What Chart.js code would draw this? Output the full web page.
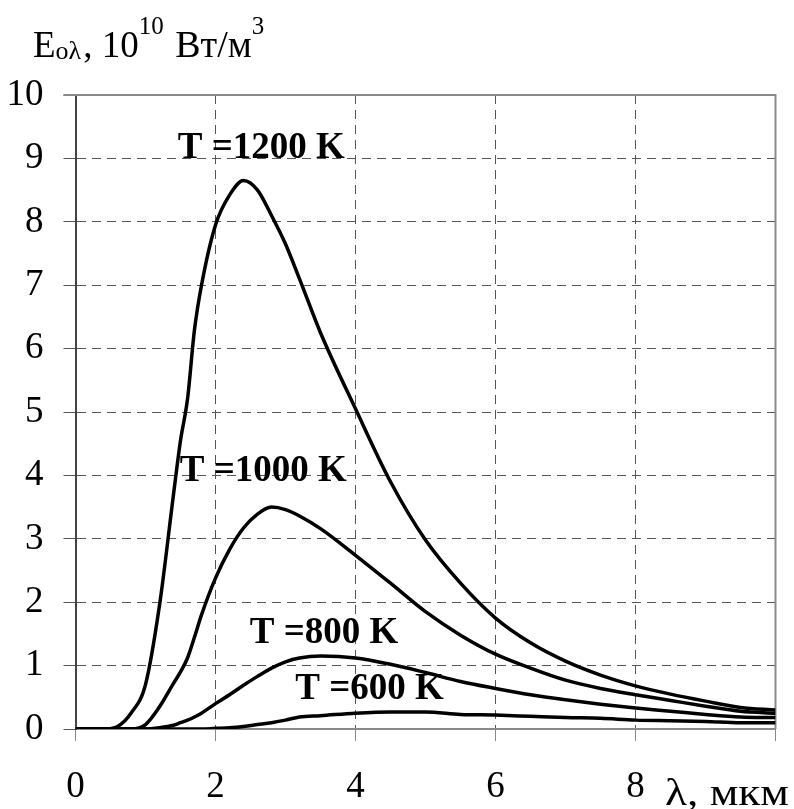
<!DOCTYPE html>
<html>
<head>
<meta charset="utf-8">
<script src="https://cdn.jsdelivr.net/npm/chart.js@4.4.0/dist/chart.umd.min.js"></script>
<style>
  html, body { margin: 0; padding: 0; background: #fff; }
  #wrap { width: 794px; height: 809px; }
</style>
</head>
<body>
<div id="wrap"><canvas id="myChart" width="794" height="809"></canvas></div>
<script>
// wavelength, um
const lambda = [0, 0.4, 0.6, 0.8, 1.0, 1.2, 1.4, 1.5, 1.6, 1.7, 1.8, 2.0, 2.2, 2.4, 2.6, 2.8, 3.0, 3.2, 3.5, 4.0, 4.5, 5.0, 5.5, 6.0, 6.5, 7.0, 7.5, 8.0, 8.5, 9.0, 9.5, 10];

// E_0lambda, 10^10 W/m^3
const e1200 = [0, 0, 0.04, 0.26, 0.7, 1.95, 3.7, 4.55, 5.2, 6.3, 7.0, 7.95, 8.42, 8.65, 8.5, 8.1, 7.65, 7.1, 6.25, 5.05, 3.9, 2.98, 2.3, 1.75, 1.36, 1.07, 0.85, 0.68, 0.55, 0.44, 0.34, 0.30];
const e1000 = [0, 0, 0, 0, 0.07, 0.35, 0.72, 0.9, 1.12, 1.45, 1.8, 2.38, 2.83, 3.17, 3.39, 3.5, 3.46, 3.36, 3.16, 2.74, 2.3, 1.85, 1.48, 1.18, 0.96, 0.77, 0.64, 0.54, 0.45, 0.36, 0.28, 0.25];
const e800 = [0, 0, 0, 0, 0, 0.02, 0.06, 0.1, 0.14, 0.19, 0.25, 0.4, 0.54, 0.69, 0.83, 0.96, 1.06, 1.12, 1.15, 1.12, 1.02, 0.89, 0.75, 0.64, 0.54, 0.46, 0.39, 0.33, 0.28, 0.23, 0.19, 0.18];
const e600 = [0, 0, 0, 0, 0, 0, 0, 0, 0, 0, 0, 0.01, 0.02, 0.04, 0.07, 0.1, 0.14, 0.19, 0.21, 0.25, 0.27, 0.27, 0.23, 0.22, 0.2, 0.18, 0.17, 0.14, 0.13, 0.12, 0.1, 0.1];

const curveNames = ["T =1200 K", "T =1000 K", "T =800 K", "T =600 K"];
// where each name sits (left end of text, baseline), in axis units
const nameX = [1.46, 1.49, 2.49, 3.14];
const nameY = [9.0, 3.91, 1.36, 0.47];

const xTicks = [0, 2, 4, 6, 8];
const xTitle = "λ, мкм";

const serif = "'Liberation Serif', 'Times New Roman', serif";

function series(values) {
    return lambda.map((x, i) => ({ x: x, y: values[i] }));
}

const lineStyle = {
    borderColor: "#000",
    borderWidth: 3.5,
    pointRadius: 0,
    fill: false,
    cubicInterpolationMode: "monotone"
};

const extras = {
    id: "extras",
    beforeDatasetsDraw(chart) {
        const { ctx, chartArea: a } = chart;
        ctx.save();
        ctx.strokeStyle = "#8a8a8a";
        ctx.lineWidth = 2;
        ctx.beginPath();
        ctx.moveTo(a.left - 12, a.top);
        ctx.lineTo(a.right, a.top);
        ctx.lineTo(a.right, a.bottom);
        ctx.stroke();
        ctx.restore();
    },
    afterDraw(chart) {
        const { ctx, scales } = chart;
        ctx.save();
        ctx.fillStyle = "#000";
        ctx.textBaseline = "alphabetic";
        ctx.textAlign = "left";

        // curve names
        ctx.font = "bold 37px " + serif;
        curveNames.forEach((t, i) => {
            ctx.fillText(t, scales.x.getPixelForValue(nameX[i]), scales.y.getPixelForValue(nameY[i]));
        });

        // y axis title: E_oλ, 10^10 Вт/м^3
        let x = 33;
        const parts = [
            ["E", 37, 57],
            ["oλ", 26, 59],
            [", 10", 37, 57],
            ["10", 25, 34],
            [" Вт/м", 38, 57],
            ["3", 25, 34]
        ];
        parts.forEach(p => {
            ctx.font = p[1] + "px " + serif;
            ctx.fillText(p[0], x, p[2]);
            x += ctx.measureText(p[0]).width + (p[1] < 30 ? 2 : 0);
        });

        // x axis title, a bit wider as in the original
        ctx.font = "37px " + serif;
        const w = ctx.measureText(xTitle).width;
        ctx.translate(665, 805);
        ctx.scale(124 / w, 1);
        ctx.fillText(xTitle, 0, 0);
        ctx.restore();
    }
};

const config = {
    type: "line",
    data: {
        datasets: [
            { label: curveNames[0], data: series(e1200), ...lineStyle },
            { label: curveNames[1], data: series(e1000), ...lineStyle },
            { label: curveNames[2], data: series(e800), ...lineStyle },
            { label: curveNames[3], data: series(e600), ...lineStyle }
        ]
    },
    options: {
        responsive: false,
        animation: false,
        layout: { padding: { top: 95, right: 18.5, left: 0, bottom: 0 } },
        plugins: {
            legend: { display: false },
            tooltip: { enabled: false }
        },
        scales: {
            x: {
                type: "linear",
                min: 0,
                max: 10,
                afterFit: s => {
                    s.height = 80;
                    s.paddingLeft = 0;
                    s.paddingRight = 0;
                },
                afterBuildTicks: s => { s.ticks = xTicks.concat([10]).map(v => ({ value: v })); },
                ticks: {
                    callback: v => (xTicks.includes(v) ? String(v) : ""),
                    font: { family: serif, size: 37 },
                    color: "#000",
                    padding: 24,
                    maxRotation: 0,
                    autoSkip: false
                },
                grid: {
                    color: "#555",
                    lineWidth: 1,
                    tickLength: 12,
                    tickColor: "#888",
                    tickWidth: 1
                },
                border: { display: true, color: "#8a8a8a", width: 2, dash: [9, 6] }
            },
            y: {
                min: 0,
                max: 10,
                afterFit: s => { s.width = 75.5; },
                ticks: {
                    stepSize: 1,
                    font: { family: serif, size: 37 },
                    color: "#000",
                    padding: 20
                },
                grid: {
                    color: "#555",
                    lineWidth: 1,
                    tickLength: 12,
                    tickColor: "#555",
                    tickWidth: 1
                },
                border: { display: true, color: "#444", width: 2, dash: [9, 6] }
            }
        }
    },
    plugins: [extras]
};

new Chart(document.getElementById("myChart"), config);
</script>
</body>
</html>
